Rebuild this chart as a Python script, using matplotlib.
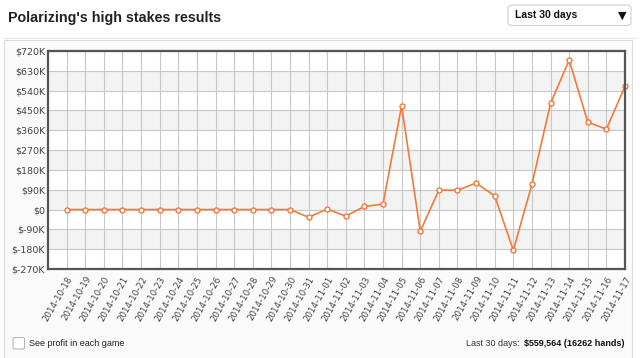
import matplotlib
matplotlib.use("Agg")
import matplotlib.pyplot as plt
from matplotlib.patches import Rectangle, FancyBboxPatch

dates = ["2014-10-18", "2014-10-19", "2014-10-20", "2014-10-21", "2014-10-22",
         "2014-10-23", "2014-10-24", "2014-10-25", "2014-10-26", "2014-10-27",
         "2014-10-28", "2014-10-29", "2014-10-30", "2014-10-31", "2014-11-01",
         "2014-11-02", "2014-11-03", "2014-11-04", "2014-11-05", "2014-11-06",
         "2014-11-07", "2014-11-08", "2014-11-09", "2014-11-10", "2014-11-11",
         "2014-11-12", "2014-11-13", "2014-11-14", "2014-11-15", "2014-11-16",
         "2014-11-17"]
profit_k = [0, 0, 0, 0, 0, 0, 0, 0, 0, 0, 0, 0, 0, -35, 2, -30, 14, 25, 471,
            -99, 88, 88, 120, 62, -185, 114, 482, 679, 397, 365, 559.564]
ytick_vals = [-270, -180, -90, 0, 90, 180, 270, 360, 450, 540, 630, 720]
ytick_labels = ["$-270K", "$-180K", "$-90K", "$0", "$90K", "$180K", "$270K",
                "$360K", "$450K", "$540K", "$630K", "$720K"]
grey_bands = [(540, 630), (360, 450), (180, 270), (0, 90), (-180, -90)]

W, H = 640, 358
fig = plt.figure(figsize=(W / 100, H / 100), dpi=100)
fig.patch.set_facecolor("white")

def fx(px):
    return px / W

def fy(py):
    return 1 - py / H

# panel
fig.add_artist(Rectangle((fx(4), fy(H + 5)), fx(632) - fx(4), fy(40) - fy(H + 5),
                         transform=fig.transFigure, facecolor="#fafafa",
                         edgecolor="#dcdcdc", linewidth=0.8, zorder=0))
fig.add_artist(plt.Line2D([fx(4), fx(636)], [fy(37.5), fy(37.5)],
                          transform=fig.transFigure, color="#e6e6e6", linewidth=0.8))

# title
fig.text(fx(8), fy(18), "Polarizing's high stakes results", fontsize=10.3,
         fontweight="bold", family="Liberation Sans", color="#222222",
         ha="left", va="center")

# dropdown
fig.add_artist(FancyBboxPatch((fx(508), fy(25.5)), fx(631) - fx(508), fy(5) - fy(25.5),
                              boxstyle="round,pad=0,rounding_size=0.008",
                              transform=fig.transFigure, facecolor="white",
                              edgecolor="#cfcfcf", linewidth=0.8))
fig.text(fx(515), fy(15.5), "Last 30 days", fontsize=7.5, fontweight="bold",
         family="Liberation Sans", color="#111111", ha="left", va="center")
fig.text(fx(626), fy(15.5), "▼", fontsize=8, family="DejaVu Sans",
         color="#111111", ha="right", va="center")

# axes
ax = fig.add_axes([fx(48), fy(269), fx(625) - fx(48), fy(51) - fy(269)])
ax.set_facecolor("white")
for lo, hi in grey_bands:
    ax.axhspan(lo, hi, color="#f3f3f3", zorder=0, linewidth=0)

x = list(range(len(dates)))
ax.plot(x, profit_k, color="#f07a3a", linewidth=1.2, marker="o", markersize=3.6,
        markerfacecolor="white", markeredgecolor="#f07a3a", markeredgewidth=1.0,
        zorder=3, clip_on=False)

ax.set_xlim(-1, len(dates) - 1)
ax.set_ylim(-270, 720)
ax.set_yticks(ytick_vals)
ax.set_yticklabels(ytick_labels)
ax.set_xticks(x)
ax.set_xticklabels(dates, rotation=60, ha="right", rotation_mode="anchor")
ax.grid(True, color="#c8c8c8", linewidth=0.8, zorder=1)
ax.set_axisbelow(True)
ax.tick_params(axis="both", length=0, colors="#444444", labelsize=6.8, pad=2)
ax.tick_params(axis="x", labelsize=6.2, pad=4)
for lab in ax.get_yticklabels() + ax.get_xticklabels():
    lab.set_family("DejaVu Sans")
for s in ax.spines.values():
    s.set_color("#555555")
    s.set_linewidth(1.6)
    s.set_zorder(4)

# bottom controls
fig.add_artist(FancyBboxPatch((fx(13), fy(349)), fx(24.5) - fx(13), fy(337.5) - fy(349),
                              boxstyle="round,pad=0,rounding_size=0.004",
                              transform=fig.transFigure, facecolor="white",
                              edgecolor="#b0b0b0", linewidth=0.7))
fig.text(fx(29), fy(343), "See profit in each game", fontsize=6.5,
         family="Liberation Sans", color="#222222", ha="left", va="center")
t1 = fig.text(fx(624), fy(343), "$559,564 (16262 hands)", fontsize=6.5,
              fontweight="bold", family="Liberation Sans", color="#111111",
              ha="right", va="center")
fig.canvas.draw()
bb = t1.get_window_extent()
fig.text(bb.x0 / W - 0.002, fy(343), "Last 30 days: ", fontsize=6.5,
         family="Liberation Sans", color="#333333", ha="right", va="center")

fig.savefig("out.png", dpi=100, facecolor="white")
